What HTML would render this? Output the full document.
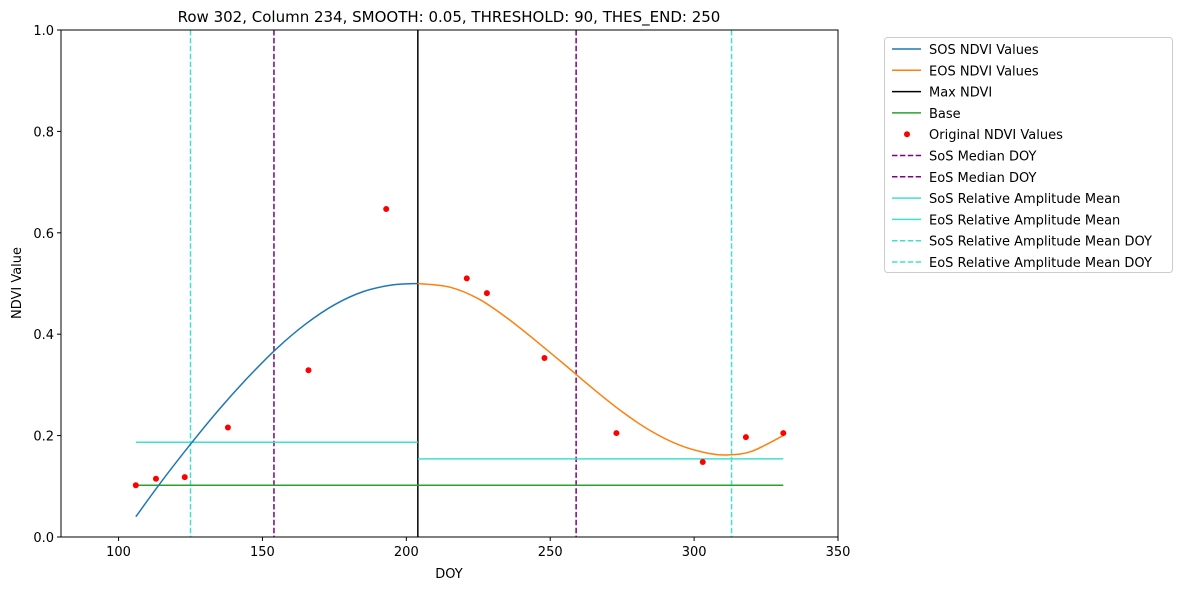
<!DOCTYPE html>
<html><head><meta charset="utf-8"><style>
body{margin:0;background:#fff;font-family:"Liberation Sans","DejaVu Sans",sans-serif}
</style></head><body>
<svg id="chart" width="1182" height="590" xmlns="http://www.w3.org/2000/svg" font-family="DejaVu Sans, Liberation Sans, sans-serif"></svg>
<script>
const sosDoy=[106,115,125,135,145,155,165,175,185,195,204];
const sosVal=[0.04,0.11,0.183,0.252,0.315,0.372,0.42,0.458,0.484,0.497,0.5];
const eosDoy=[204,215,225,235,245,255,265,275,285,295,305,312,320,331];
const eosVal=[0.5,0.493,0.47,0.432,0.387,0.34,0.292,0.247,0.209,0.181,0.165,0.162,0.169,0.2];
const obsDoy=[106,113,123,138,166,193,221,228,248,273,303,318,331];
const obsVal=[0.102,0.115,0.118,0.216,0.329,0.647,0.51,0.481,0.353,0.205,0.148,0.197,0.205];
const maxDoy=204, baseVal=0.102, baseStart=106, baseEnd=331;
const sosAmp=0.187, eosAmp=0.154;
const sosMedian=154, eosMedian=259, sosAmpDoy=125, eosAmpDoy=313;
const xTicks=[100,150,200,250,300,350];
const yTicks=[0.0,0.2,0.4,0.6,0.8,1.0];
const L=61,R=838,T=30,B=537,xmin=80,xmax=350;
const X=v=>L+(v-xmin)/(xmax-xmin)*(R-L);
const Y=v=>B-v*(B-T);
const svg=document.getElementById('chart');const NS='http://www.w3.org/2000/svg';
function el(t,a,txt){const e=document.createElementNS(NS,t);for(const k in a)e.setAttribute(k,a[k]);if(txt!==undefined)e.textContent=txt;svg.appendChild(e);return e;}
function line(x1,y1,x2,y2,c,dash,name){const e=el('line',{x1,y1,x2,y2,stroke:c,'stroke-width':1.5,'stroke-dasharray':dash||'none'});

return e;}
[[sosAmpDoy,'#40e0d0','sos-amp-doy-line'],[eosAmpDoy,'#40e0d0','eos-amp-doy-line'],[sosMedian,'purple','sos-median-line'],[eosMedian,'purple','eos-median-line']].forEach(d=>line(X(d[0]),T,X(d[0]),B,d[1],'5.5,2.4',d[2]));
line(X(maxDoy),T,X(maxDoy),B,'#000',null,'max-ndvi-line');
line(X(baseStart),Y(baseVal),X(baseEnd),Y(baseVal),'#2ca02c',null,'base-line');
line(X(baseStart),Y(sosAmp),X(maxDoy),Y(sosAmp),'#40e0d0',null,'sos-amp-mean-line');
line(X(maxDoy),Y(eosAmp),X(baseEnd),Y(eosAmp),'#40e0d0',null,'eos-amp-mean-line');
function curve(xs,ys,c,name){
const P=xs.map((x,i)=>[X(x),Y(ys[i])]);
let d='M'+P[0][0]+','+P[0][1];
for(let i=0;i<P.length-1;i++){const p0=P[Math.max(0,i-1)],p1=P[i],p2=P[i+1],p3=P[Math.min(P.length-1,i+2)];
const c1=[p1[0]+(p2[0]-p0[0])/6,p1[1]+(p2[1]-p0[1])/6],c2=[p2[0]-(p3[0]-p1[0])/6,p2[1]-(p3[1]-p1[1])/6];
d+=' C'+c1+' '+c2+' '+p2;}
const p=el('path',{d,fill:'none',stroke:c,'stroke-width':1.5});

}
curve(sosDoy,sosVal,'#1f77b4','sos-curve');
curve(eosDoy,eosVal,'#ff7f0e','eos-curve');
obsDoy.forEach((d,i)=>{const c=el('circle',{cx:X(d),cy:Y(obsVal[i]),r:3,fill:'red'});

});
const fr=el('rect',{x:L,y:T,width:R-L,height:B-T,fill:'none',stroke:'#000','stroke-width':1});


xTicks.forEach(t=>{line(X(t),B,X(t),B+4,'#000',null,'x-tick').setAttribute('stroke-width',1);
const tx=el('text',{x:X(t),y:B+19,'font-size':13,'text-anchor':'middle'},t);

});
yTicks.forEach(t=>{line(L-4,Y(t),L,Y(t),'#000',null,'y-tick').setAttribute('stroke-width',1);
const tx=el('text',{x:L-7,y:Y(t)+5,'font-size':13,'text-anchor':'end'},t.toFixed(1));

});
let t1=el('text',{x:449,y:578,'font-size':13,'text-anchor':'middle'},'DOY');

let t2=el('text',{x:21,y:283,'font-size':13,'text-anchor':'middle',transform:'rotate(-90 21 283)'},'NDVI Value');

let t3=el('text',{x:449,y:22,'font-size':15,'text-anchor':'middle'},'Row 302, Column 234, SMOOTH: 0.05, THRESHOLD: 90, THES_END: 250');

const lg=el('rect',{x:884.5,y:37.5,width:288,height:235,fill:'#fff',stroke:'#ccc',rx:3});

const items=[['SOS NDVI Values','#1f77b4','l'],['EOS NDVI Values','#ff7f0e','l'],['Max NDVI','#000','l'],['Base','#2ca02c','l'],['Original NDVI Values','red','p'],['SoS Median DOY','purple','d'],['EoS Median DOY','purple','d'],['SoS Relative Amplitude Mean','#40e0d0','l'],['EoS Relative Amplitude Mean','#40e0d0','l'],['SoS Relative Amplitude Mean DOY','#40e0d0','d'],['EoS Relative Amplitude Mean DOY','#40e0d0','d']];
items.forEach((it,i)=>{const y=49+i*21.3;
if(it[2]==='p'){const c=el('circle',{cx:907,cy:y,r:3,fill:'red'});}
else line(892,y,921,y,it[1],it[2]==='d'?'5.5,2.4':null,'legend-line');
const tx=el('text',{x:929,y:y+5,'font-size':13},it[0]);

});
</script>
</body></html>
